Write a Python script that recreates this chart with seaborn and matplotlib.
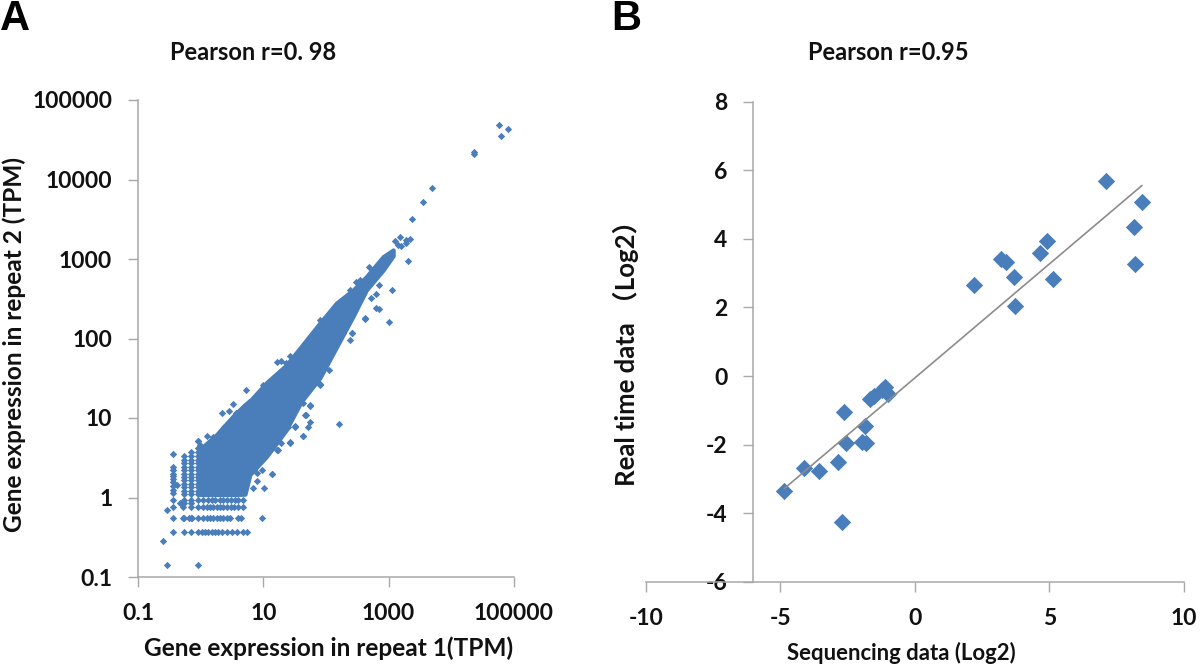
#!/usr/bin/env python3
"""Replicate correlation plots: RNA-seq repeats and real time vs sequencing."""

import matplotlib
matplotlib.use('Agg')
import matplotlib.pyplot as plt
import pandas as pd
import seaborn as sns

BLUE = '#4a7ebb'
GREY = '#a8a8a8'

# Panel A: dense core of the cloud, read as an envelope
core_x = [1.0, 1.1, 1.8, 3.3, 5.1, 6.1, 11.3, 23, 40, 80, 147, 270, 440, 815, 1180]
core_low = [1.09, 1.09, 1.09, 1.09, 1.1, 1.94, 3.3, 7, 16, 32, 78, 190, 407, 724, 1100]
core_high = [4.0, 4.4, 6.2, 10.6, 14.8, 16.4, 28, 46, 79, 157, 280, 407, 600, 1070, 1300]

# Panel A: discrete low-count rows and columns
row_x_036 = [0.356, 0.546, 0.706, 0.922, 1.04, 1.18, 1.33, 1.51, 1.70, 1.92, 2.17, 2.60, 3.12, 3.86, 4.80, 5.4]
row_x_055 = [0.356, 0.53, 0.546, 0.706, 0.73, 0.922, 1.1, 1.25, 1.4, 1.6, 1.8, 2.0, 2.3, 2.6, 2.95, 3.9, 4.4, 9.4]
row_x_075 = [0.356, 0.53, 0.706, 0.922, 1.1, 1.25, 1.4, 1.6, 1.8, 2.0, 2.3, 2.6, 3.0, 3.4, 3.9, 4.8]
row_x_092 = [0.356, 0.546, 0.706, 0.922, 1.1, 1.3, 1.5, 1.7, 2.0, 2.3, 2.6, 3.0, 3.5, 4.0, 4.8]
col_y_036 = [1.14, 1.25, 1.4, 1.55, 1.7, 1.85, 2.0, 2.2, 2.4, 3.48]
col_y_055 = [0.85, 1.1, 1.2, 1.35, 1.5, 1.65, 1.8, 2.0, 2.2, 2.45, 2.7, 3.0, 3.3]
col_y_071 = [0.85, 1.1, 1.2, 1.35, 1.5, 1.65, 1.8, 2.0, 2.2, 2.45, 2.7, 3.0, 3.3, 3.7]
col_y_092 = [1.1, 1.2, 1.35, 1.5, 1.65, 1.8, 2.0, 2.2, 2.45, 2.7, 3.0, 3.3, 3.7, 4.2, 5.2]

# Panel A: separate points around the cloud
out_x = [56600, 79400, 62500, 22600, 23200, 4840, 3470, 2320, 1510, 1245, 1410, 1590, 1900, 2190, 1860,
         2040, 1120, 692, 1020, 480, 302, 354, 414, 245, 260, 110, 81, 26.4, 16.7, 18.8, 700, 630, 513,
         160, 5.3, 3.25, 2.2, 2.88, 1.25, 0.9, 55, 48, 55, 52, 43, 32, 18.9, 26.5, 16.7, 14, 10.4, 9.4,
         7.8, 6.8, 43, 79, 0.247, 0.293, 0.90, 0.29, 0.42, 0.46, 0.66]
out_y = [48900, 43200, 34900, 20900, 22400, 7890, 5160, 3210, 1900, 1700, 1500, 1455, 1740, 1770, 1600,
         944, 407, 234, 162, 794, 513, 543, 176, 95, 117, 40, 170, 60, 51, 52, 468, 363, 324,
         8.3, 22.4, 14.9, 11.5, 12.2, 5.9, 5.2, 14.5, 10.9, 8.9, 7.7, 6.0, 7.9, 4.9, 5.0, 4.0, 2.0, 1.3, 2.25,
         1.63, 1.32, 15.6, 26.6, 0.28, 0.142, 0.142, 0.70, 1.45, 0.85, 0.55]

# Panel A: bumps along the edges of the cloud
edge_x = [263, 417, 631, 55, 47, 32.6, 43, 26.4, 17, 14, 79, 55, 100, 186, 24.6, 9.3, 7.8, 18,
          3.7, 1.6, 0.98, 5.8, 9.9, 23.4, 49, 147, 240, 2.4, 3.0]
edge_y = [117, 182, 240, 14, 10.9, 7.7, 6, 4.9, 4, 2, 26, 24.6, 54, 117, 7.8, 3, 2.05, 5.8,
          11.5, 5.8, 4.6, 15.9, 26, 49, 91, 263, 407, 7.6, 9.2]

log_xticks = [0.1, 10, 1000, 100000]
log_xticklabels = ['0.1', '10', '1000', '100000']
log_yticks = [0.1, 1, 10, 100, 1000, 10000, 100000]
log_yticklabels = ['0.1', '1', '10', '100', '1000', '10000', '100000']

# Panel B: real time vs sequencing
seq_x = [7.1, 8.45, 8.15, 8.2, 4.92, 4.66, 3.2, 3.4, 3.7, 5.15, 3.72, 2.2,
         -1.10, -0.98, -1.23, -1.51, -1.66, -2.64, -1.85, -2.57, -1.97, -1.81, -2.85, -4.11, -3.56, -4.85, -2.70]
rt_y = [5.69, 5.08, 4.35, 3.27, 3.95, 3.6, 3.41, 3.32, 2.88, 2.82, 2.03, 2.65,
        -0.32, -0.52, -0.42, -0.57, -0.66, -1.06, -1.45, -1.95, -1.92, -1.95, -2.51, -2.67, -2.76, -3.36, -4.26]
lin_xticks = [-10, -5, 0, 5, 10]
lin_yticks = [-6, -4, -2, 0, 2, 4, 6, 8]

W, H = 1200, 668
sns.set_theme(style='white')
plt.rcParams['font.family'] = ['Lato', 'Noto Sans CJK SC', 'DejaVu Sans']
plt.rcParams['font.weight'] = 'bold'
plt.rcParams['axes.unicode_minus'] = False

fig = plt.figure(figsize=(W / 100, H / 100), dpi=100, facecolor='white')


def add_axes(left, right, top, bottom):
    return fig.add_axes([left / W, 1 - bottom / H, (right - left) / W, (bottom - top) / H])


def style_axes(ax):
    sns.despine(ax=ax)
    for side in ('left', 'bottom'):
        ax.spines[side].set_color(GREY)
        ax.spines[side].set_linewidth(1.1)
    ax.tick_params(axis='both', which='major', left=True, bottom=True, length=7, width=1.0,
                   color=GREY, labelsize=16.5, labelcolor='#111111', pad=11.5)
    ax.tick_params(axis='both', which='minor', left=False, bottom=False)
    ax.grid(False)


# --- Panel A ---
ax1 = add_axes(138, 514, 100, 577)
ax1.set_xscale('log')
ax1.set_yscale('log')
ax1.fill_between(core_x, core_low, core_high, color=BLUE, linewidth=3, zorder=2)

rows = [(0.366, row_x_036), (0.556, row_x_055), (0.75, row_x_075), (0.92, row_x_092)]
cols = [(0.356, col_y_036), (0.546, col_y_055), (0.706, col_y_071), (0.922, col_y_092)]
pts_x, pts_y = list(out_x) + list(edge_x), list(out_y) + list(edge_y)
for level, xs in rows:
    pts_x += xs
    pts_y += [level] * len(xs)
for level, ys in cols:
    pts_x += [level] * len(ys)
    pts_y += ys
df_a = pd.DataFrame({'x': pts_x, 'y': pts_y})
sns.scatterplot(data=df_a, x='x', y='y', marker='D', s=14, color=BLUE, linewidth=0, ax=ax1, zorder=3)

ax1.set_xlim(0.1, 100000)
ax1.set_ylim(0.1, 100000)
ax1.set_xticks(log_xticks)
ax1.set_xticklabels(log_xticklabels)
ax1.set_yticks(log_yticks)
ax1.set_yticklabels(log_yticklabels)
style_axes(ax1)
ax1.set_xlabel('')
ax1.set_ylabel('')

# --- Panel B ---
ax2 = add_axes(645.7, 1183.7, 101.5, 582)
df_b = pd.DataFrame({'seq': seq_x, 'rt': rt_y})
sns.regplot(data=df_b, x='seq', y='rt', ci=None, marker='D', ax=ax2,
            scatter_kws={'s': 78, 'color': BLUE, 'linewidths': 0, 'alpha': 1, 'zorder': 3},
            line_kws={'color': '#8c8c8c', 'linewidth': 1.2, 'zorder': 4})
ax2.set_xlim(-10, 10)
ax2.set_ylim(-6, 8)
ax2.set_xticks(lin_xticks)
ax2.set_yticks(lin_yticks)
style_axes(ax2)
ax2.spines['left'].set_position(('data', -6))
ax2.set_xlabel('')
ax2.set_ylabel('')

# --- Text ---
fig.text(0 / W, 1 - 30 / H, 'A', fontsize=30, family='Liberation Sans', weight='bold', color='black')
fig.text(611 / W, 1 - 30 / H, 'B', fontsize=30, family='Liberation Sans', weight='bold', color='black')
fig.text(253 / W, 1 - 53 / H, 'Pearson r=0. 98', fontsize=17, ha='center', va='center', color='#111111')
fig.text(888 / W, 1 - 53 / H, 'Pearson r=0.95', fontsize=17, ha='center', va='center', color='#111111')
fig.text(329 / W, 1 - 648 / H, 'Gene expression in repeat 1(TPM)', fontsize=17.6, ha='center', va='center', color='#111111')
fig.text(901 / W, 1 - 653 / H, 'Sequencing data (Log2)', fontsize=15.9, ha='center', va='center', color='#111111')
fig.text(14 / W, 1 - 345 / H, 'Gene expression in repeat 2 (TPM)', fontsize=17.6, rotation=90, ha='center', va='center', color='#111111')
fig.text(626 / W, 1 - 347 / H, 'Real time data （Log2）', fontsize=18.5, rotation=90, ha='center', va='center', color='#111111')

fig.savefig('out.png', dpi=100, facecolor='white')
plt.close(fig)
